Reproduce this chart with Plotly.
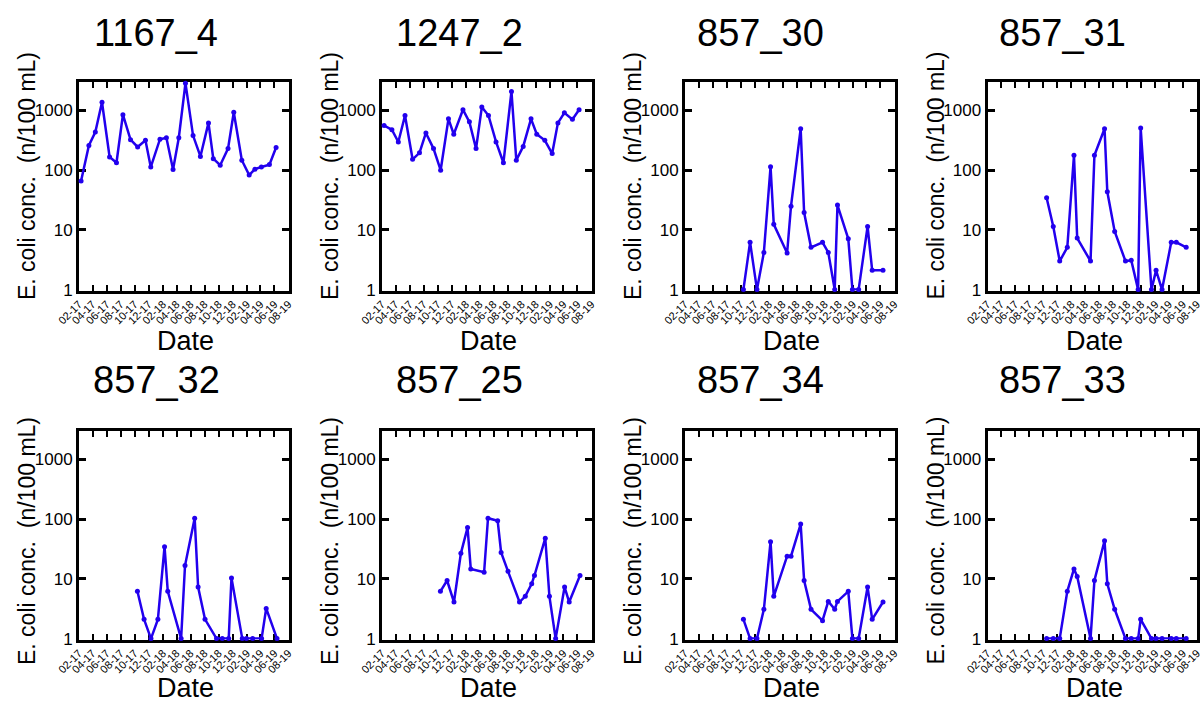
import plotly.graph_objects as go

# ---------------- data ----------------
sites = ["1167_4", "1247_2", "857_30", "857_31", "857_32", "857_25", "857_34", "857_33"]

dates_long = ["2017-02-10", "2017-03-16", "2017-04-13", "2017-05-12", "2017-06-14", "2017-07-14",
              "2017-08-11", "2017-09-13", "2017-10-14", "2017-11-17", "2017-12-10", "2018-01-19",
              "2018-02-16", "2018-03-17", "2018-04-11", "2018-05-10", "2018-06-12", "2018-07-14",
              "2018-08-18", "2018-09-08", "2018-10-08", "2018-11-11", "2018-12-06", "2019-01-10",
              "2019-02-11", "2019-03-08", "2019-04-05", "2019-05-10", "2019-06-08"]

dates_857a = ["2017-10-13", "2017-11-11", "2017-12-11", "2018-01-10", "2018-02-08", "2018-02-22",
              "2018-04-21", "2018-05-08", "2018-06-19", "2018-07-04", "2018-08-03", "2018-09-22",
              "2018-10-17", "2018-11-14", "2018-11-26", "2019-01-12", "2019-01-30", "2019-02-26",
              "2019-04-06", "2019-04-26", "2019-06-12"]

dates_857b = ["2017-10-16", "2017-11-14", "2017-12-12", "2018-01-14", "2018-02-12", "2018-02-26",
              "2018-04-25", "2018-05-12", "2018-06-25", "2018-07-07", "2018-08-08", "2018-09-24",
              "2018-10-19", "2018-11-18", "2018-11-29", "2019-01-15", "2019-02-04", "2019-03-02",
              "2019-04-11", "2019-05-03", "2019-06-15"]

ecoli_1167_4 = [66, 260, 435, 1375, 167, 133, 850, 325, 245, 316, 113, 330, 350, 103, 350,
                2870, 380, 170, 620, 156, 121, 230, 935, 147, 83, 104, 113, 124, 240]
ecoli_1247_2 = [560, 475, 297, 825, 152, 195, 420, 230, 100, 725, 400, 1030, 645, 230, 1140,
                825, 297, 133, 2080, 147, 250, 725, 400, 316, 190, 620, 915, 710, 1030]
ecoli_857_30 = [1, 6.2, 1, 4.2, 114, 12.4, 4.1, 25, 495, 19.5, 5.1, 6.2, 4.2, 1, 26, 7.1,
                1, 1, 11.4, 2.1, 2.1]
ecoli_857_31 = [34.6, 11.4, 3.0, 5.1, 178, 7.3, 3.0, 178, 495, 43.5, 9.4, 3.0, 3.1, 1, 510,
                1, 2.1, 1, 6.2, 6.2, 5.1]
ecoli_857_32 = [6.2, 2.1, 1, 2.1, 34.6, 6.2, 1, 16.7, 104, 7.3, 2.1, 1, 1, 1, 10.4, 1, 1, 1,
                1, 3.2, 1]
ecoli_857_25 = [6.2, 9.4, 4.1, 26.8, 72.6, 14.7, 12.9, 104, 94, 27.8, 13.4, 4.1, 5.1, 8.3,
                11.4, 48, 5.1, 1, 7.3, 4.1, 11.4]
ecoli_857_34 = [2.1, 1, 1, 3.1, 42, 5.1, 24, 24, 83, 9.4, 3.1, 2.0, 4.2, 3.1, 4.2, 6.2, 1, 1,
                7.3, 2.1, 4.1]
ecoli_857_33 = [1, 1, 1, 6.2, 14.7, 11, 1, 9.4, 43.5, 8.3, 3.1, 1, 1, 1, 2.1, 1, 1, 1, 1, 1, 1]

x_tickvals = ["2017-02-01", "2017-04-01", "2017-06-01", "2017-08-01", "2017-10-01", "2017-12-01",
              "2018-02-01", "2018-04-01", "2018-06-01", "2018-08-01", "2018-10-01", "2018-12-01",
              "2019-02-01", "2019-04-01", "2019-06-01", "2019-08-01"]
x_ticktext = ["02-17", "04-17", "06-17", "08-17", "10-17", "12-17", "02-18", "04-18", "06-18",
              "08-18", "10-18", "12-18", "02-19", "04-19", "06-19", "08-19"]
y_tickvals = [1, 10, 100, 1000]
y_ticktext = ["1", "10", "100", "1000"]

series = [
    (dates_long, ecoli_1167_4), (dates_long, ecoli_1247_2),
    (dates_857a, ecoli_857_30), (dates_857b, ecoli_857_31),
    (dates_857a, ecoli_857_32), (dates_857a, ecoli_857_25),
    (dates_857a, ecoli_857_34), (dates_857b, ecoli_857_33),
]

# ---------------- layout geometry (pixels) ----------------
W, H = 1201, 702
col_left = [79, 382, 685, 987.5]
panel_w = 209.5
row_top = [82, 431]
panel_h = 208.5
title_x = [156, 459, 760, 1062]
title_y = [33, 380]
ylab_y = [176, 541]
date_y = [341, 688]

FONT = "Liberation Sans, Arial, Helvetica, sans-serif"
BLUE = "#2200ee"

fig = go.Figure()
layout = dict(
    width=W, height=H,
    margin=dict(l=0, r=0, t=0, b=0, autoexpand=False),
    paper_bgcolor="white", plot_bgcolor="white",
    showlegend=False,
    font=dict(family=FONT, color="black"),
    annotations=[],
)

for i, site in enumerate(sites):
    r, c = divmod(i, 4)
    n = i + 1
    xa = "x" if n == 1 else f"x{n}"
    ya = "y" if n == 1 else f"y{n}"
    x0 = col_left[c] / W
    x1 = (col_left[c] + panel_w) / W
    y1 = 1 - row_top[r] / H
    y0 = 1 - (row_top[r] + panel_h) / H
    d, v = series[i]
    fig.add_trace(go.Scatter(
        x=d, y=v, mode="lines+markers", xaxis=xa, yaxis=ya,
        line=dict(color=BLUE, width=2.5),
        marker=dict(color=BLUE, size=5),
        cliponaxis=False,
    ))
    layout["xaxis" if n == 1 else f"xaxis{n}"] = dict(
        domain=[x0, x1], anchor=ya, type="date", automargin=False,
        range=["2017-02-01", "2019-08-01"],
        tickmode="array", tickvals=x_tickvals, ticktext=x_ticktext,
        tickangle=-45, tickfont=dict(size=11, family=FONT), ticklabeloverflow="allow",
        ticks="inside", ticklen=6, tickwidth=2, tickcolor="black",
        showline=True, linewidth=3, linecolor="black", mirror="ticks",
        showgrid=False, zeroline=False, layer="below traces",
    )
    layout["yaxis" if n == 1 else f"yaxis{n}"] = dict(
        domain=[y0, y1], anchor=xa, type="log", automargin=False,
        range=[-0.015, 3.477],
        tickmode="array", tickvals=y_tickvals, ticktext=y_ticktext,
        tickfont=dict(size=17, family=FONT),
        ticks="inside", ticklen=7, tickwidth=2.5, tickcolor="black",
        showline=True, linewidth=3, linecolor="black", mirror="ticks",
        showgrid=False, zeroline=False, layer="below traces",
    )
    layout["annotations"].append(dict(
        text=site, x=title_x[c] / W, y=1 - title_y[r] / H, xref="paper", yref="paper",
        xanchor="center", yanchor="middle", showarrow=False,
        font=dict(size=38, family=FONT, color="black"),
    ))
    layout["annotations"].append(dict(
        text="E. coli conc.  (n/100 mL)", x=(col_left[c] - 52) / W, y=1 - ylab_y[r] / H,
        xref="paper", yref="paper", xanchor="center", yanchor="middle",
        textangle=-90, showarrow=False,
        font=dict(size=23, family=FONT, color="black"),
    ))
    layout["annotations"].append(dict(
        text="Date", x=(col_left[c] + panel_w / 2 + 2) / W, y=1 - date_y[r] / H,
        xref="paper", yref="paper", xanchor="center", yanchor="middle", showarrow=False,
        font=dict(size=27, family=FONT, color="black"),
    ))

fig.update_layout(**layout)
fig.write_html(
    "out.html",
    config={"displayModeBar": False},
    post_script="document.body.style.margin='0';document.body.style.overflow='hidden';",
)
